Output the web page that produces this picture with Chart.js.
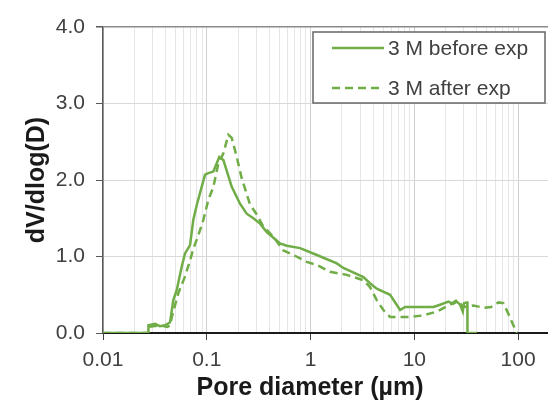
<!DOCTYPE html>
<html>
<head>
<meta charset="utf-8">
<script src="https://cdn.jsdelivr.net/npm/chart.js@4.4.0/dist/chart.umd.min.js"></script>
<style>
  html, body { margin: 0; padding: 0; background: #fff; }
  #wrap { width: 548px; height: 405px; }
</style>
</head>
<body>
<div id="wrap"><canvas id="poreChart"></canvas></div>
<script>
const seriesLabels = ['3 M before exp', '3 M after exp'];
const xTitle = 'Pore diameter (\u00b5m)';
const yTitle = 'dV/dlog(D)';

// pore diameter (um) and dV/dlog(D)
const poreBefore = [0.01, 0.0272, 0.0274, 0.0317, 0.0354, 0.0396, 0.0443, 0.0476, 0.0513, 0.0574,
  0.0617, 0.069, 0.0742, 0.080, 0.0893, 0.0962, 0.1035, 0.1157, 0.132, 0.1445,
  0.174, 0.209, 0.2425, 0.281, 0.326, 0.378, 0.508, 0.59, 0.793, 1.15,
  1.79, 2.07, 3.23, 3.74, 4.34, 5.84, 7.29, 8.15, 15.3, 17.7,
  21.3, 23.6, 25.6, 27.6, 29.3, 30.1, 32.0, 32.4, 32.5, 40];
const dvBefore = [0, 0, 0.1, 0.12, 0.09, 0.1, 0.14, 0.43, 0.56, 0.87,
  1.04, 1.15, 1.48, 1.67, 1.91, 2.07, 2.09, 2.11, 2.3, 2.26,
  1.91, 1.69, 1.56, 1.5, 1.43, 1.32, 1.17, 1.14, 1.11, 1.02,
  0.91, 0.85, 0.73, 0.65, 0.58, 0.5, 0.3, 0.34, 0.34, 0.37,
  0.41, 0.38, 0.41, 0.37, 0.28, 0.39, 0.4, 0.4, 0, 0];

const poreAfter = [0.01, 0.0272, 0.0274, 0.0354, 0.0417, 0.0443, 0.0459, 0.0532, 0.0617, 0.069,
  0.0742, 0.083, 0.0927, 0.1035, 0.1157, 0.129, 0.1445, 0.1614, 0.174, 0.1945,
  0.2173, 0.261, 0.303, 0.351, 0.438, 0.547, 0.683, 0.918, 1.148, 1.542,
  2.23, 3.23, 3.74, 4.34, 5.03, 5.84, 9.1, 12.2, 16.4, 22.1,
  25.7, 29.7, 37, 46.3, 55, 64.6, 72, 80, 88, 97];
const dvAfter = [0, 0, 0.08, 0.1, 0.08, 0.1, 0.2, 0.52, 0.74, 0.95,
  1.1, 1.28, 1.48, 1.74, 1.91, 2.21, 2.35, 2.59, 2.55, 2.3,
  2.02, 1.68, 1.55, 1.39, 1.26, 1.08, 1.02, 0.93, 0.89, 0.8,
  0.76, 0.69, 0.6, 0.43, 0.3, 0.21, 0.21, 0.23, 0.28, 0.37,
  0.43, 0.34, 0.36, 0.33, 0.34, 0.4, 0.39, 0.26, 0.13, 0];

const xDecades = [0.01, 0.1, 1, 10, 100];
const yTicks = [0, 1, 2, 3, 4];

const green = '#70ad47';
const fontFamily = '"Liberation Sans", Arial, sans-serif';

function isDecade(v) {
  const l = Math.log10(v);
  return Math.abs(l - Math.round(l)) < 1e-6;
}

// legend box and axis titles
const overlay = {
  id: 'overlay',
  afterDraw(chart) {
    const { ctx, chartArea } = chart;
    ctx.save();
    ctx.fillStyle = '#1a1a1a';
    ctx.font = 'bold 25px ' + fontFamily;
    ctx.textAlign = 'center';
    ctx.textBaseline = 'middle';
    ctx.fillText(xTitle, 310, 388);
    ctx.translate(37, (chartArea.top + chartArea.bottom) / 2);
    ctx.rotate(-Math.PI / 2);
    ctx.fillText(yTitle, 0, 0);
    ctx.restore();

    ctx.save();
    ctx.fillStyle = '#fff';
    ctx.fillRect(313, 32, 232, 71);
    ctx.strokeStyle = '#666';
    ctx.lineWidth = 1.5;
    ctx.strokeRect(313, 32, 232, 71);
    ctx.font = '21px ' + fontFamily;
    ctx.textAlign = 'left';
    ctx.textBaseline = 'middle';
    chart.data.datasets.forEach((ds, i) => {
      const y = 48 + i * 40;
      ctx.strokeStyle = ds.borderColor;
      ctx.lineWidth = ds.borderWidth;
      ctx.setLineDash(ds.borderDash || []);
      ctx.beginPath();
      ctx.moveTo(332, y);
      ctx.lineTo(384, y);
      ctx.stroke();
      ctx.fillStyle = '#404040';
      ctx.fillText(ds.label, 388, y + 1);
    });
    ctx.restore();
  }
};

new Chart(document.getElementById('poreChart'), {
  type: 'line',
  data: {
    datasets: [{
      label: seriesLabels[0],
      data: poreBefore.map((x, i) => ({ x: x, y: dvBefore[i] })),
      borderColor: green,
      borderWidth: 2.5,
      pointRadius: 0,
      tension: 0,
      fill: false
    }, {
      label: seriesLabels[1],
      data: poreAfter.map((x, i) => ({ x: x, y: dvAfter[i] })),
      borderColor: green,
      borderWidth: 2.5,
      borderDash: [8, 5],
      pointRadius: 0,
      tension: 0,
      fill: false
    }]
  },
  options: {
    responsive: true,
    maintainAspectRatio: false,
    animation: false,
    devicePixelRatio: 1,
    layout: { padding: { top: 27, right: 0, left: 0, bottom: 0 } },
    plugins: { legend: { display: false }, tooltip: { enabled: false } },
    scales: {
      x: {
        type: 'logarithmic',
        min: 0.01,
        max: 194,
        afterBuildTicks: (scale) => {
          const t = [];
          xDecades.forEach(d => {
            for (let k = 1; k <= 9; k++) {
              const v = d * k;
              if (v <= scale.max) t.push({ value: v });
            }
          });
          scale.ticks = t;
        },
        afterFit: (scale) => {
          scale.height = 72;
          scale.paddingLeft = 0;
          scale.paddingRight = 0;
        },
        ticks: {
          autoSkip: false,
          maxRotation: 0,
          padding: 8,
          color: '#404040',
          font: { family: fontFamily, size: 21 },
          callback: (v) => isDecade(v) ? String(+v.toPrecision(3)) : ''
        },
        grid: {
          color: (c) => c.tick && isDecade(c.tick.value) ? '#cfcfcf' : '#e6e6e6',
          tickColor: (c) => c.tick && isDecade(c.tick.value) ? '#404040' : 'rgba(0,0,0,0)',
          tickLength: 7,
          lineWidth: 1
        },
        border: { color: '#1a1a1a', width: 2 }
      },
      y: {
        min: 0,
        max: 4,
        afterBuildTicks: (scale) => {
          scale.ticks = yTicks.map(v => ({ value: v }));
        },
        afterFit: (scale) => {
          scale.width = 103;
          scale.paddingTop = 0;
          scale.paddingBottom = 0;
        },
        ticks: {
          padding: 11,
          color: '#404040',
          font: { family: fontFamily, size: 21 },
          callback: (v) => v.toFixed(1)
        },
        grid: {
          color: (c) => c.tick && c.tick.value === 4 ? '#8a8a8a' : '#d9d9d9',
          tickColor: '#595959',
          tickLength: 7,
          lineWidth: (c) => c.tick && c.tick.value === 4 ? 1.5 : 1
        },
        border: { color: '#595959', width: 1.5 }
      }
    }
  },
  plugins: [overlay]
});
</script>
</body>
</html>
